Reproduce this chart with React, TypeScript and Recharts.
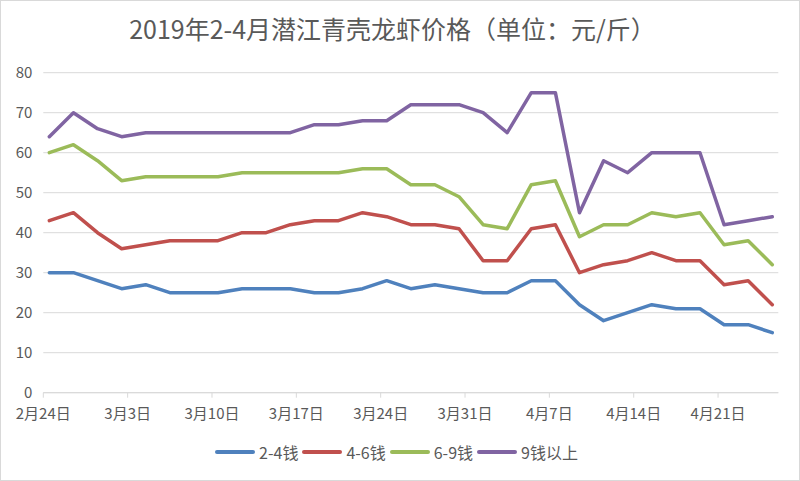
import React from 'react';
import { LineChart, Line, XAxis, YAxis, CartesianGrid } from 'recharts';

const dates = [
  '2-24', '2-26', '2-28', '3-2', '3-4', '3-6', '3-8', '3-10', '3-12', '3-14', '3-16',
  '3-18', '3-20', '3-22', '3-24', '3-26', '3-28', '3-30', '4-1', '4-3', '4-5', '4-7',
  '4-9', '4-11', '4-13', '4-15', '4-17', '4-19', '4-21', '4-23', '4-25',
];

const s24 = [30, 30, 28, 26, 27, 25, 25, 25, 26, 26, 26, 25, 25, 26, 28, 26, 27, 26, 25, 25, 28, 28, 22, 18, 20, 22, 21, 21, 17, 17, 15];
const s46 = [43, 45, 40, 36, 37, 38, 38, 38, 40, 40, 42, 43, 43, 45, 44, 42, 42, 41, 33, 33, 41, 42, 30, 32, 33, 35, 33, 33, 27, 28, 22];
const s69 = [60, 62, 58, 53, 54, 54, 54, 54, 55, 55, 55, 55, 55, 56, 56, 52, 52, 49, 42, 41, 52, 53, 39, 42, 42, 45, 44, 45, 37, 38, 32];
const s9 = [64, 70, 66, 64, 65, 65, 65, 65, 65, 65, 65, 67, 67, 68, 68, 72, 72, 72, 70, 65, 75, 75, 45, 58, 55, 60, 60, 60, 42, 43, 44];

const xTickLabels = ['2月24日', '3月3日', '3月10日', '3月17日', '3月24日', '3月31日', '4月7日', '4月14日', '4月21日'];
const yTicks = [0, 10, 20, 30, 40, 50, 60, 70, 80];

const series = [
  { key: 's24', name: '2-4钱', color: '#4F81BD' },
  { key: 's46', name: '4-6钱', color: '#C0504D' },
  { key: 's69', name: '6-9钱', color: '#9BBB59' },
  { key: 's9', name: '9钱以上', color: '#8064A2' },
];

// days since 2/24 (Excel date axis puts each point in the middle of its day)
const start = Date.UTC(2019, 1, 24);
const dayOf = (m: number, d: number) => (Date.UTC(2019, m - 1, d) - start) / 86400000;

const data = dates.map((s, i) => {
  const [m, d] = s.split('-').map(Number);
  return { x: dayOf(m, d) + 0.5, s24: s24[i], s46: s46[i], s69: s69[i], s9: s9[i] };
});

const tickPos = xTickLabels.map(l => {
  const r = l.match(/(\d+)月(\d+)日/)!;
  return dayOf(Number(r[1]), Number(r[2]));
});
const labelOf: Record<number, string> = {};
tickPos.forEach((p, i) => { labelOf[p] = xTickLabels[i]; });

const font = '"Noto Sans CJK SC", "Noto Sans", sans-serif';
const textColor = '#595959';

export default function App() {
  return (
    <div style={{ position: 'absolute', left: 0, top: 0, width: 800, height: 481, background: '#fff', fontFamily: font }}>
      <div style={{
        position: 'absolute', left: 0, top: 10, width: 785, textAlign: 'center',
        fontSize: 25, color: textColor, lineHeight: '36px',
      }}>
        2019年2-4月潜江青壳龙虾价格（单位：元/斤）
      </div>
      <div style={{ position: 'absolute', left: 0, top: 0 }}>
        <LineChart width={800} height={481} data={data} margin={{ top: 72.7, right: 21.7, left: 0, bottom: 58.3 }}>
          <CartesianGrid vertical={false} stroke="#d9d9d9" strokeWidth={1} />
          <XAxis
            type="number"
            dataKey="x"
            domain={[0, 61]}
            allowDataOverflow
            ticks={tickPos}
            interval={0}
            height={30}
            tickFormatter={(v: number) => labelOf[v] ?? ''}
            stroke="#d9d9d9"
            tickSize={5}
            tickMargin={11}
            tick={{ fill: textColor, fontSize: 15, fontFamily: font }}
          />
          <YAxis
            domain={[0, 80]}
            ticks={yTicks}
            interval={0}
            width={43.3}
            axisLine={false}
            tickLine={false}
            tickMargin={5}
            tick={{ fill: textColor, fontSize: 15, fontFamily: font }}
          />
          {series.map(s => (
            <Line
              key={s.key}
              type="linear"
              dataKey={s.key}
              name={s.name}
              stroke={s.color}
              strokeWidth={3.5}
              strokeLinejoin="round"
              strokeLinecap="round"
              dot={false}
              activeDot={false}
              isAnimationActive={false}
            />
          ))}
        </LineChart>
      </div>
      <div style={{
        position: 'absolute', left: 0, top: 440, width: 800, display: 'flex',
        justifyContent: 'center', alignItems: 'center', fontSize: 16, color: textColor,
        lineHeight: '24px',
      }}>
        <div style={{ display: 'flex', alignItems: 'center', marginLeft: -3 }}>
          {series.map(s => (
            <div key={s.key} style={{ display: 'flex', alignItems: 'center', marginRight: 4 }}>
              <span style={{ display: 'inline-block', width: 40, height: 4, borderRadius: 2, background: s.color, marginRight: 4 }} />
              <span>{s.name}</span>
            </div>
          ))}
        </div>
      </div>
      <div style={{ position: 'absolute', left: 0, top: 0, width: 800, height: 481, boxSizing: 'border-box', border: '1px solid #d9d9d9', pointerEvents: 'none' }} />
    </div>
  );
}
